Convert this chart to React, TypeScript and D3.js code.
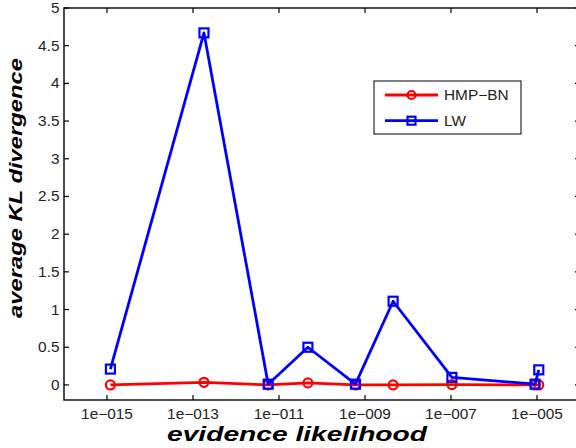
import React from "react";
import * as d3 from "d3";

const xValues = [1.2e-15, 1.8e-13, 5.6e-12, 4.7e-11, 6e-10, 4.5e-9, 1.05e-7, 9e-6, 1.1e-5];
const hmpValues = [0, 0.035, 0, 0.027, 0, 0, 0.005, 0, 0];
const lwValues = [0.21, 4.67, 0.01, 0.5, 0.01, 1.11, 0.1, 0.01, 0.2];
const xTicks = [1e-15, 1e-13, 1e-11, 1e-9, 1e-7, 1e-5];
const xTickLabels = ["1e\u2212015", "1e\u2212013", "1e\u2212011", "1e\u2212009", "1e\u2212007", "1e\u2212005"];
const yTicks = [0, 0.5, 1, 1.5, 2, 2.5, 3, 3.5, 4, 4.5, 5];
const seriesNames = ["HMP\u2212BN", "LW"];

const W = 576, H = 448;
const left = 64, right = 580, top = 8, bottom = 400;
const FONT = "'Liberation Sans', Arial, Helvetica, sans-serif";
const SX = 1.1;
const FS = 14;

export default function App() {
  const x = d3.scaleLog().domain([1e-16, 1e-4]).range([left, right]);
  const y = d3.scaleLinear().domain([-0.2, 5]).range([bottom, top]);
  const line = d3.line<number>().x((_, i) => x(xValues[i])).y((d) => y(d));
  const red = "#ff0000", blue = "#0000ff";

  const sq = 9;
  return (
    <svg width={W} height={H} style={{ position: "absolute", left: 0, top: 0, background: "#fff" }}>
      <rect x={0} y={0} width={W} height={H} fill="#fff" />
      <rect x={left} y={top} width={right - left} height={bottom - top} fill="none" stroke="#000" strokeWidth={1.4} />
      {xTicks.map((t, i) => (
        <g key={"xt" + i}>
          <line x1={x(t)} x2={x(t)} y1={bottom} y2={bottom - 5} stroke="#000" strokeWidth={1.2} />
          <line x1={x(t)} x2={x(t)} y1={top} y2={top + 5} stroke="#000" strokeWidth={1.2} />
          <g transform={`translate(${x(t)},${419}) scale(${SX},1)`}>
            <text x={0} y={0} textAnchor="middle" fontFamily={FONT} fontSize={FS} fill="#222">{xTickLabels[i]}</text>
          </g>
        </g>
      ))}
      {yTicks.map((t, i) => (
        <g key={"yt" + i}>
          <line x1={left} x2={left + 5} y1={y(t)} y2={y(t)} stroke="#000" strokeWidth={1.2} />
          <line x1={right} x2={right - 5} y1={y(t)} y2={y(t)} stroke="#000" strokeWidth={1.2} />
          <g transform={`translate(${59.5},${y(t) + 5}) scale(${SX},1)`}>
            <text x={0} y={0} textAnchor="end" fontFamily={FONT} fontSize={FS} fill="#222">{String(t)}</text>
          </g>
        </g>
      ))}
      <path d={line(hmpValues) || ""} fill="none" stroke={red} strokeWidth={2.8} strokeLinejoin="round" />
      {hmpValues.map((v, i) => (
        <circle key={"hc" + i} cx={x(xValues[i])} cy={y(v)} r={4.5} fill="none" stroke={red} strokeWidth={2.2} />
      ))}
      <path d={line(lwValues) || ""} fill="none" stroke={blue} strokeWidth={2.8} strokeLinejoin="round" />
      {lwValues.map((v, i) => (
        <rect key={"lr" + i} x={x(xValues[i]) - sq / 2} y={y(v) - sq / 2} width={sq} height={sq} fill="none" stroke={blue} strokeWidth={2.2} />
      ))}
      <rect x={374} y={81} width={147} height={53} fill="#fff" stroke="#000" strokeWidth={1} />
      <line x1={385} x2={438} y1={95} y2={95} stroke={red} strokeWidth={2.8} />
      <circle cx={411.5} cy={95} r={4} fill="none" stroke={red} strokeWidth={2.2} />
      <g transform={`translate(444,${95 + 5}) scale(${SX},1)`}>
        <text x={0} y={0} fontFamily={FONT} fontSize={FS} fill="#222">{seriesNames[0]}</text>
      </g>
      <line x1={385} x2={438} y1={120.7} y2={120.7} stroke={blue} strokeWidth={2.8} />
      <rect x={411.5 - 4} y={120.7 - 4} width={8} height={8} fill="none" stroke={blue} strokeWidth={2.2} />
      <g transform={`translate(444,${120.7 + 5}) scale(${SX},1)`}>
        <text x={0} y={0} fontFamily={FONT} fontSize={FS} fill="#222">{seriesNames[1]}</text>
      </g>
      <text x={167} y={441} textLength={260} lengthAdjust="spacingAndGlyphs" fontFamily={FONT} fontSize={21} fontWeight="bold" fontStyle="italic" fill="#000">evidence likelihood</text>
      <text transform="translate(22,318) rotate(-90)" x={0} y={0} textLength={260} lengthAdjust="spacingAndGlyphs" fontFamily={FONT} fontSize={19} fontWeight="bold" fontStyle="italic" fill="#000">average KL divergence</text>
    </svg>
  );
}
